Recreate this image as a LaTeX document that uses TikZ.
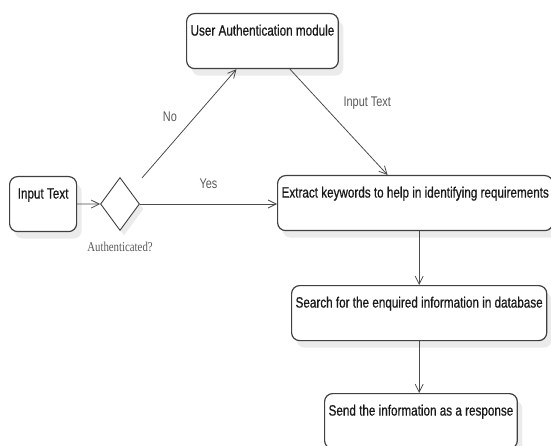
\documentclass[tikz,border=0pt]{standalone}
\usepackage{fontspec}
\setmainfont{Liberation Sans}[FakeStretch=0.78, FakeBold=0.6]
\newfontfamily\capfont{Liberation Serif}[FakeStretch=0.8]
\newfontfamily\lblfont{Liberation Sans}[FakeStretch=0.78]
\usetikzlibrary{arrows.meta, positioning, shapes.geometric, shadows, calc}
\tikzset{>={Straight Barb[length=8pt,width=8pt]}}
\tikzset{stepbox/.style = {draw=black!75, line width=1.2pt, rounded corners=8pt, fill=white,
    drop shadow={shadow xshift=5pt, shadow yshift=-7pt, fill=black!8, opacity=1},
    anchor=north west, inner xsep=4pt, inner ysep=0pt, text height=22pt, text depth=33pt,
    font=\fontsize{15}{17}\selectfont, text=black!90}}
\tikzset{decide/.style = {diamond, draw=black!75, line width=0.9pt, fill=white,
    drop shadow={shadow xshift=4pt, shadow yshift=-5pt, fill=black!8, opacity=1},
    minimum width=39pt, minimum height=53pt, inner sep=0pt}}
\tikzset{edge/.style = {->, draw=black!70, line width=0.8pt}}
\tikzset{lbl/.style = {text=black!65, inner sep=0pt, font=\lblfont\fontsize{14}{16}\selectfont}}

\begin{document}
\begin{tikzpicture}[x=1pt, y=-1pt]
    \useasboundingbox (0,0) rectangle (551,446);

    % boxes
    \node[stepbox, minimum width=67pt] (inp) at (9,176) {Input Text};
    \node[decide] (dia) at (120,204) {};
    \node[stepbox, minimum width=150pt] (user) at (186,13) {User Authentication module};
    \node[stepbox, minimum width=273pt] (ext) at (277,175) {Extract keywords to help in identifying requirements};
    \node[stepbox, minimum width=250pt] (srch) at (291,285) {Search for the enquired information in database};
    \node[stepbox, minimum width=188pt] (send) at (324,393) {Send the information as a response};

    \node[text=black!65, inner sep=0pt, font=\capfont\fontsize{13.5}{15}\selectfont, below=11pt of dia] (authlbl) {Authenticated?};

    % connectors
    \draw[edge] (inp) -- (dia);
    \draw[edge] ($(dia.east)+(2,-26)$) -- ($(user.south west)!0.33!(user.south east)$)
        node[lbl, pos=0.565, left=18pt] (nolbl) {No};
    \draw[edge] ($(user.south west)!0.68!(user.south east)$) -- ($(ext.north west)!0.40!(ext.north east)$)
        node[lbl, pos=0.32, right=22pt] (txtlbl) {Input Text};
    \draw[edge] (dia.east) -- (dia.east -| ext.west)
        node[lbl, midway, above=15pt] (yeslbl) {Yes};
    \draw[edge] (srch.north |- ext.south) -- (srch.north);
    \draw[edge] (srch.south) -- (srch.south |- send.north);
\end{tikzpicture}
\end{document}
